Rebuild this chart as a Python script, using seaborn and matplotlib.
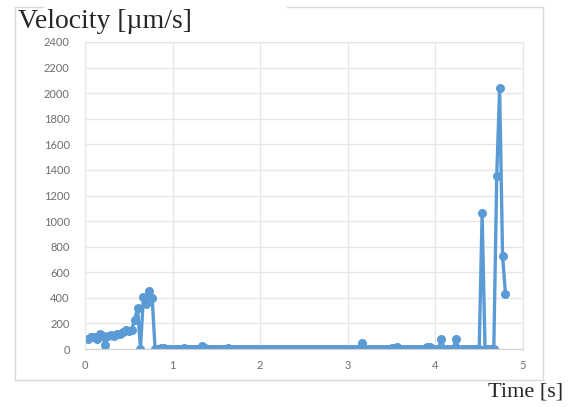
import numpy as np
import pandas as pd
import seaborn as sns
import matplotlib.pyplot as plt
from matplotlib.lines import Line2D

# sampled velocity (frame rate 30 fps, first frame at 1/30 s)
fps = 30
velocity = [
    75, 95, 90, 80, 115, 100, 35, 105, 110, 100,
    120, 115, 130, 150, 140, 150, 230, 320, 0, 410,
    350, 450, 400, 0, 0, 5, 10, 0, 0, 0,
    0, 0, 0, 5, 0, 0, 0, 0, 0, 20,
    5, 0, 0, 0, 0, 0, 0, 0, 10, 0,
    0, 0, 0, 0, 0, 0, 0, 0, 0, 0,
    0, 0, 0, 0, 0, 0, 0, 0, 0, 0,
    0, 0, 0, 0, 0, 0, 0, 0, 0, 0,
    0, 0, 0, 0, 0, 0, 0, 0, 0, 0,
    0, 0, 0, 0, 45, 0, 0, 0, 0, 0,
    0, 0, 0, 0, 10, 0, 12, 0, 0, 0,
    0, 0, 0, 0, 0, 0, 12, 15, 0, 0,
    0, 80, 0, 0, 0, 0, 75, 0, 0, 0,
    0, 0, 0, 0, 0, 1060, 0, 0, 0, 0,
    1350, 2040, 730, 430,
]
time_s = (np.arange(len(velocity)) + 1) / fps
df = pd.DataFrame({'time': time_s, 'velocity': velocity})

y_ticks = list(range(0, 2401, 200))
x_ticks = [0, 1, 2, 3, 4, 5]

sns.set_style('white')
plt.rcParams['font.family'] = ['Lato', 'DejaVu Sans']

W, H = 573, 407
fig = plt.figure(figsize=(W / 100, H / 100), dpi=100)

# chart area frame (Excel style)
def fx(px):
    return px / W

def fy(py):
    return 1 - py / H

frame_col = '#d9d9d9'
for seg in [((15, 15), (7, 380)), ((543, 543), (7, 380)), ((15, 543), (380, 380)),
            ((15, 43), (7, 7)), ((287, 543), (7, 7))]:
    fig.add_artist(Line2D([fx(seg[0][0]), fx(seg[0][1])], [fy(seg[1][0]), fy(seg[1][1])],
                          color=frame_col, lw=1))

ax = fig.add_axes([fx(85), fy(349), fx(523) - fx(85), fy(42) - fy(349)])
sns.lineplot(data=df, x='time', y='velocity', ax=ax, color='#5b9bd5',
             marker='o', markersize=6.5, markeredgewidth=0, linewidth=2.4)

ax.set_xlim(0, 5)
ax.set_ylim(0, 2400)
ax.set_xticks(x_ticks)
ax.set_yticks(y_ticks)
ax.grid(True, color='#e6e6e6', linewidth=1)
for s in ['top', 'right', 'left']:
    ax.spines[s].set_color('#e6e6e6')
ax.spines['bottom'].set_color('#d0d0d0')
ax.tick_params(axis='both', length=0, labelsize=8, labelcolor='#6e6e6e')
ax.tick_params(axis='y', pad=11)
ax.tick_params(axis='x', pad=8)
ax.set_xlabel('')
ax.set_ylabel('')

fig.text(fx(18), fy(21), 'Velocity [\u00b5m/s]', family=['Liberation Serif'],
         fontsize=20, va='center', ha='left')
fig.text(fx(563), fy(392), 'Time [s]', family=['Liberation Serif'],
         fontsize=16, va='center', ha='right')

fig.savefig('out.png', dpi=100)
